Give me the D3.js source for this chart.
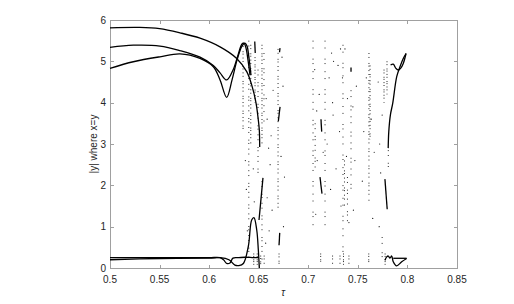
<!DOCTYPE html>
<html>
<head>
<meta charset="utf-8">
<title>bifurcation</title>
<script src="https://cdn.jsdelivr.net/npm/d3@7"></script>
<style>
body { margin:0; background:#fff; }
text { font-family: "Liberation Sans", Arial, sans-serif; fill:#262626; }
</style>
</head>
<body>
<svg id="chart" width="514" height="304"></svg>
<script>
// tick labels
var xTicks = [0.5, 0.55, 0.6, 0.65, 0.7, 0.75, 0.8, 0.85];
var yTicks = [0, 1, 2, 3, 4, 5, 6];

// solid branches [tau, |y|]
var curveA = [[0.5,5.81],[0.53,5.82],[0.55,5.79],[0.5706,5.69],[0.5908,5.56],[0.611,5.35],[0.6278,5.07],[0.6379,4.75],[0.6429,4.43],[0.6473,3.99],[0.6496,3.58],[0.6506,3.34],[0.651,2.93]];
var curveB = [[0.5,5.34],[0.5235,5.39],[0.5504,5.37],[0.5706,5.26],[0.5908,5.1],[0.6042,4.9],[0.611,4.72],[0.6177,4.55],[0.6241,4.79],[0.6291,5.15],[0.6331,5.42],[0.6352,5.44],[0.6372,5.32],[0.6392,5.03],[0.6412,4.67]];
var curveC = [[0.5,4.83],[0.5235,4.99],[0.5504,5.11],[0.5706,5.18],[0.5908,5.07],[0.6042,4.87],[0.611,4.55],[0.6177,4.13],[0.6231,4.55],[0.6281,5.03],[0.6331,5.37],[0.6362,5.44],[0.6382,5.37],[0.6402,5.08],[0.6422,4.67]];
var lowA = [[0.5,0.2],[0.55,0.23],[0.6,0.24],[0.611,0.25],[0.62,0.2],[0.626,0.07],[0.63,0.06],[0.6345,0.11],[0.6395,0.52],[0.6429,1.16],[0.6452,1.22],[0.648,0.92],[0.6496,0.44],[0.6506,0.0]];
var lowB = [[0.5,0.25],[0.55,0.25],[0.6,0.25],[0.611,0.25],[0.6145,0.2],[0.6177,0.11],[0.621,0.12],[0.624,0.24],[0.63,0.25],[0.636,0.26],[0.645,0.25],[0.65,0.25]];
var curveD = [[0.7806,2.9],[0.7812,3.3],[0.7828,3.7],[0.7852,3.99],[0.7892,4.63],[0.7925,4.87],[0.7958,5.07],[0.7986,5.19]];
var wiggleD = [[0.783,4.91],[0.7857,4.93],[0.7884,4.83],[0.7907,4.79],[0.7931,4.83],[0.7958,4.95],[0.7986,5.19]];
var lowD = [[0.7774,0.19],[0.7791,0.27],[0.7807,0.29],[0.7824,0.24],[0.7841,0.29],[0.7857,0.15],[0.7891,0.05],[0.7942,0.15],[0.7992,0.23]];
var lowD2 = [[0.7857,0.235],[0.7992,0.235]];
var branches = [curveA, curveB, curveC, lowA, lowB, curveD, wiggleD, lowD, lowD2];

// short thick pieces
var pieces = [
  [[0.6543,2.18],[0.6503,1.16]],
  [[0.7773,2.15],[0.7796,1.42]],
  [[0.646,5.48],[0.6465,5.2]],
  [[0.6715,5.32],[0.671,5.22]],
  [[0.6715,3.9],[0.6698,3.55]],
  [[0.6712,0.85],[0.6705,0.55]],
  [[0.7118,2.2],[0.7138,1.8]],
  [[0.7128,3.6],[0.7135,3.3]],
  [[0.7431,4.85],[0.7431,4.75]]
];

// dotted columns of iterates: tau, top, bottom, spacing
var streaks = [
  [0.6342,5.45,3.3,2.5],[0.640,5.5,0.2,4],[0.642,5.4,3.0,2.5],[0.6463,5.1,4.0,2],
  [0.6493,4.8,2.2,4],[0.6533,5.4,3.0,2.5],[0.6533,2.1,0.2,4],[0.6553,5.2,3.5,5],
  [0.6695,5.3,1.35,3],[0.7048,5.5,0.9,6],[0.7069,3.5,2.4,4],[0.7169,5.5,1.0,6],[0.735,5.4,0.3,6],
  [0.7431,4.3,1.8,5],[0.7612,5.2,1.6,3],[0.7623,4.9,3.1,2.5],[0.7764,4.8,4.0,2],[0.7794,5.0,4.2,2],
  [0.7745,0.75,0.15,5],[0.7807,2.85,2.4,4],[0.7365,2.6,1.5,3],[0.7395,2.2,1.1,4],
  [0.645,0.35,0.08,1.5],[0.6485,0.35,0.08,1.5],[0.652,0.3,0.08,1.5],[0.6555,0.3,0.08,2],
  [0.6705,0.35,0.08,2],[0.7125,0.35,0.15,1.5],[0.7245,0.3,0.08,2],[0.732,0.3,0.08,2],
  [0.7355,0.35,0.08,1.5],[0.741,0.3,0.08,2],[0.761,0.35,0.1,1.5],[0.7775,0.35,0.08,1.5]
];

// scattered iterates
var dots = [[0.6575,4.1],[0.6585,3.6],[0.66,2.9],[0.6615,2.5],[0.6585,1.7],[0.6605,0.9],[0.657,0.6],[0.6635,1.4],[0.6645,4.3],[0.6625,3.2],
  [0.6735,5.1],[0.6745,4.4],[0.676,2.2],[0.675,1.0],[0.6725,2.7],[0.6365,2.6],[0.6375,1.9],[0.6385,0.9],[0.6445,2.4],[0.6455,1.6],
  [0.7065,4.8],[0.7085,3.8],[0.709,2.6],[0.7075,1.3],[0.711,4.2],[0.715,2.8],[0.719,3.0],[0.721,4.6],[0.7225,1.9],[0.725,3.7],
  [0.7255,5.0],[0.728,2.4],[0.73,4.9],[0.7315,3.3],[0.733,1.5],[0.737,5.3],[0.7385,2.7],[0.7395,4.1],[0.741,1.1],[0.745,3.9],
  [0.747,2.6],[0.7455,1.4],[0.7485,4.4],[0.7545,2.1],[0.756,3.3],[0.7585,4.6],[0.7635,3.6],[0.765,1.2],[0.7665,2.8],[0.7705,4.5],
  [0.772,3.0],[0.773,2.3],[0.7715,1.0],[0.7745,3.7],[0.7235,5.2],[0.7245,4.0],[0.7325,5.3],[0.7345,4.6]];

var svg = d3.select('#chart');
var plotL = 110, plotR = 457, plotT = 20, plotB = 268;
var x = d3.scaleLinear().domain([0.5, 0.85]).range([plotL, plotR]);
var y = d3.scaleLinear().domain([0, 6]).range([plotB, plotT]);
var tickLen = 3.5;

var grid = svg.append('g');
// box
grid.append('rect').attr('x', plotL + 0.5).attr('y', plotT + 0.5)
  .attr('width', plotR - plotL).attr('height', plotB - plotT)
  .attr('fill', 'none').attr('stroke', '#a0a0a0').attr('stroke-width', 1);

// x ticks bottom + top, inward
xTicks.forEach(function(t) {
  var px = Math.round(x(t)) + 0.5;
  grid.append('line').attr('x1', px).attr('x2', px).attr('y1', plotB + 0.5).attr('y2', plotB + 0.5 - tickLen).attr('stroke', '#a0a0a0');
  grid.append('line').attr('x1', px).attr('x2', px).attr('y1', plotT + 0.5).attr('y2', plotT + 0.5 + tickLen).attr('stroke', '#a0a0a0');
  svg.append('text').attr('x', x(t)).attr('y', 283).attr('text-anchor', 'middle')
    .attr('font-size', 10).text(d3.format('')(t));
});
yTicks.forEach(function(t) {
  var py = Math.round(y(t)) + 0.5;
  grid.append('line').attr('x1', plotL + 0.5).attr('x2', plotL + 0.5 + tickLen).attr('y1', py).attr('y2', py).attr('stroke', '#a0a0a0');
  grid.append('line').attr('x1', plotR + 0.5).attr('x2', plotR + 0.5 - tickLen).attr('y1', py).attr('y2', py).attr('stroke', '#a0a0a0');
  svg.append('text').attr('x', 106).attr('y', y(t)).attr('dy', '0.35em').attr('text-anchor', 'end')
    .attr('font-size', 10).text(t);
});

// axis labels
svg.append('text').attr('transform', 'translate(97,144) rotate(-90)').attr('text-anchor', 'middle')
  .attr('font-size', 10).text('|y| where x=y');
svg.append('text').attr('x', 283).attr('y', 296).attr('text-anchor', 'middle')
  .attr('font-size', 10).attr('font-style', 'italic').attr('font-family', 'DejaVu Serif').text('τ');

var plot = svg.append('g');
var line = d3.line().x(function(d){ return x(d[0]); }).y(function(d){ return y(d[1]); }).curve(d3.curveCatmullRom);

// uneven gaps so the columns read as loose iterates, not dashes
plot.selectAll('line.streak').data(streaks).enter().append('line')
  .attr('x1', function(d){ return x(d[0]); }).attr('x2', function(d){ return x(d[0]); })
  .attr('y1', function(d){ return y(d[1]); }).attr('y2', function(d){ return y(d[2]); })
  .attr('stroke', '#111').attr('stroke-width', 1)
  .attr('stroke-dasharray', function(d){
    var s = d[3];
    return [0.9, s, 0.9, s * 1.7, 0.9, s * 0.6, 0.9, s * 1.2].join(',');
  });

plot.selectAll('circle.dot').data(dots).enter().append('circle')
  .attr('cx', function(d){ return x(d[0]); }).attr('cy', function(d){ return y(d[1]); })
  .attr('r', 0.6).attr('fill', '#111');

plot.selectAll('path.branch').data(branches).enter().append('path')
  .attr('d', line).attr('fill', 'none').attr('stroke', '#000').attr('stroke-width', 1.3);

plot.selectAll('path.piece').data(pieces).enter().append('path')
  .attr('d', d3.line().x(function(d){ return x(d[0]); }).y(function(d){ return y(d[1]); }))
  .attr('fill', 'none').attr('stroke', '#000').attr('stroke-width', 1.3);
</script>
</body>
</html>
